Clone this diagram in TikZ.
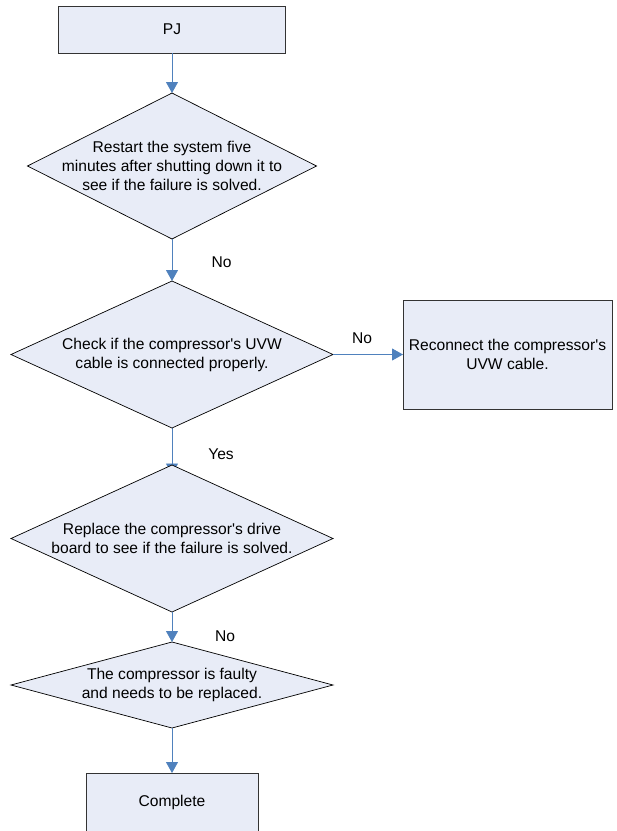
\documentclass[tikz,border=0pt]{standalone}
\usepackage{fontspec}
\setmainfont{Liberation Sans}[Ligatures=TeXOff]
\usetikzlibrary{shapes.geometric,arrows.meta,backgrounds}
\definecolor{flowfill}{HTML}{E8ECF7}
\definecolor{flowblue}{HTML}{4F81BD}
\tikzset{
  flowbox/.style={rectangle,fill=flowfill,draw=black!80,line width=0.8pt,align=center,inner sep=0pt,outer sep=0pt},
  flowdiamond/.style={diamond,fill=flowfill,draw=black,line width=0.7pt,align=center,inner sep=-12pt,outer sep=0pt,minimum width=322pt,minimum height=147pt,aspect=2.2},
  flowarrow/.style={-{Triangle[width=12pt,length=11pt]},flowblue,line width=0.9pt},
  flowlabel/.style={inner sep=0pt},
  every picture/.style={font=\fontsize{15.6}{19}\selectfont}
}
\begin{document}
\begin{tikzpicture}[x=1pt,y=-1pt]
  \useasboundingbox (0,0) rectangle (617,831);
  \node[flowbox,minimum width=227pt,minimum height=47pt] (pj) at (172,29.5) {PJ};
  \node[flowdiamond,minimum width=289pt,minimum height=146pt,aspect=2] (restart) at (172,166)
    {Restart the system five\\minutes after shutting down it to\\see if the failure is solved.};
  \node[flowdiamond] (uvw) at (172,354.5) {Check if the compressor's UVW\\cable is connected properly.};
  \node[flowbox,minimum width=209pt,minimum height=109pt] (reconnect) at (507.5,354.5)
    {Reconnect the compressor's\\UVW cable.};
  \node[flowdiamond] (drive) at (172,538.5) {Replace the compressor's drive\\board to see if the failure is solved.};
  \node[flowdiamond,minimum height=86pt,aspect=3.7] (faulty) at (172,685)
    {The compressor is faulty\\and needs to be replaced.};
  \node[flowbox,minimum width=172pt,minimum height=59pt] (complete) at (172,802.5) {Complete};
  % connectors
  \draw[flowarrow] (pj) -- (restart);
  \draw[flowarrow] (restart) -- (uvw);
  \draw[flowarrow] (uvw) -- (reconnect);
  \begin{pgfonlayer}{background}
    \fill[white] (0,0) rectangle (617,831);
    \draw[flowarrow,shorten >=-9.5pt] (uvw) -- (drive);
  \end{pgfonlayer}
  \draw[flowarrow] (drive) -- (faulty);
  \draw[flowarrow] (faulty) -- (complete);
  \node[flowlabel] (no1) at (221.5,262) {No};
  \node[flowlabel] (no2) at (362,338) {No};
  \node[flowlabel] (yes) at (221,454) {Yes};
  \node[flowlabel] (no3) at (225,636) {No};
\end{tikzpicture}
\end{document}
